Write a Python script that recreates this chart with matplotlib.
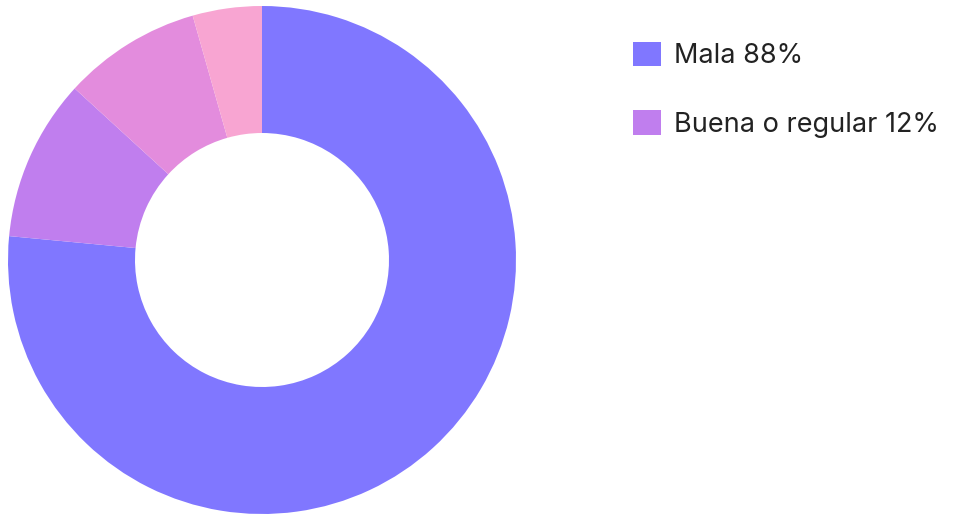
import matplotlib.pyplot as plt
from matplotlib.patches import Patch

# slice shares (percent)
shares = [76.5, 10.3, 8.8, 4.4]
colors = ['#8077ff', '#c07eee', '#e38cdd', '#f8a5d2']
legend_labels = ['Mala 88%', 'Buena o regular 12%']
legend_colors = ['#8077ff', '#c07eee']

plt.rcParams['font.family'] = ['Inter', 'DejaVu Sans']

fig = plt.figure(figsize=(9.68, 5.15), dpi=100)
W, H = 968, 515
ax = fig.add_axes([8 / W, 1 / H, 508 / W, 508 / H])
ax.pie(shares, colors=colors, startangle=90, counterclock=False,
       radius=1, wedgeprops=dict(width=0.5, linewidth=0))
ax.set_xlim(-1, 1)
ax.set_ylim(-1, 1)
ax.set_aspect('equal')
ax.axis('off')

handles = [Patch(facecolor=c, edgecolor='none') for c in legend_colors]
fig.legend(handles, legend_labels, loc='upper left',
           bbox_to_anchor=(619 / W, 1 - 28 / H), frameon=False,
           fontsize=19.5, handlelength=1.04, handleheight=1.04,
           handletextpad=0.48, labelspacing=1.5, borderpad=0,
           labelcolor='#222222')

fig.savefig('out.png', dpi=100)
